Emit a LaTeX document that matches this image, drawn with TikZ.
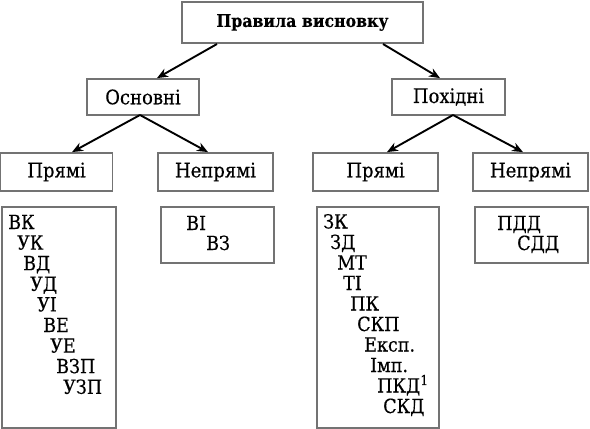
\documentclass[tikz,border=0pt]{standalone}
\usepackage{fontspec}
\setmainfont{DejaVu Serif Condensed}[FakeBold=0.35]
\usetikzlibrary{arrows.meta}
\begin{document}
\begin{tikzpicture}[x=1pt,y=-1pt,
  box/.style={draw=black!55,line width=1.8pt,fill=white},
  lbl/.style={font=\fontsize{20}{22}\selectfont},
  item/.style={anchor=base west,inner sep=0pt,font=\fontsize{19.5}{22}\selectfont},
  arr/.style={-{Stealth[length=11pt,width=9pt]},line width=1.9pt,black}]
\useasboundingbox (0,0) rectangle (590,429);
% header boxes
\node[box,minimum width=241pt,minimum height=41pt,font=\bfseries\fontsize{17.5}{19}\selectfont] (top) at (302.5,22.5) {Правила висновку};
\node[box,lbl,minimum width=112pt,minimum height=36pt] (osn) at (143,97) {Основні};
\node[box,lbl,minimum width=113pt,minimum height=36pt] (poh) at (448.5,97) {Похідні};
\node[box,lbl,minimum width=112pt,minimum height=38pt] (p1) at (56.5,172) {Прямі};
\node[box,lbl,minimum width=115pt,minimum height=38pt] (n1) at (215.5,172) {Непрямі};
\node[box,lbl,minimum width=125pt,minimum height=38pt] (p2) at (375.5,172) {Прямі};
\node[box,lbl,minimum width=115pt,minimum height=38pt] (n2) at (530.5,172) {Непрямі};
% anchor coordinates
\coordinate (t1) at (217,44);
\coordinate (t2) at (383,44);
\coordinate (o1) at (140,115);
\coordinate (h1) at (453,115);
\draw[arr] (t1) -- (osn.north -| 157,0);
\draw[arr] (t2) -- (poh.north -| 440,0);
\draw[arr] (o1) -- (p1.north -| 72,0);
\draw[arr] (o1) -- (n1.north -| 208,0);
\draw[arr] (h1) -- (p2.north -| 387,0);
\draw[arr] (h1) -- (n2.north -| 523,0);
% lower boxes
\node[box,minimum width=114pt,minimum height=221pt] (l1) at (59,317.5) {};
\node[box,minimum width=113pt,minimum height=56pt] (l2) at (217.5,235) {};
\node[box,minimum width=122pt,minimum height=221pt] (l3) at (378,317.5) {};
\node[box,minimum width=113pt,minimum height=56pt] (l4) at (531.5,235) {};
% left list
\node[item] (a1) at (8,229) {ВК};
\node[item] (a2) at (17,249.6) {УК};
\node[item] (a3) at (23,270.2) {ВД};
\node[item] (a4) at (30,290.8) {УД};
\node[item] (a5) at (37,311.4) {УІ};
\node[item] (a6) at (43,332) {ВЕ};
\node[item] (a7) at (50,352.6) {УЕ};
\node[item] (a8) at (56,373.2) {ВЗП};
\node[item] (a9) at (63,393.8) {УЗП};
% VI box
\node[item] (b1) at (186,230) {ВІ};
\node[item] (b2) at (206,250) {ВЗ};
% right list
\node[item] (c1) at (323,228.5) {ЗК};
\node[item] (c2) at (330,249) {ЗД};
\node[item] (c3) at (337,269.5) {МТ};
\node[item] (c4) at (343,290) {ТІ};
\node[item] (c5) at (350,310.5) {ПК};
\node[item] (c6) at (357,331) {СКП};
\node[item] (c7) at (364,351.5) {Експ.};
\node[item] (c8) at (370,372) {Імп.};
\node[item] (c9) at (377,392.5) {ПКД\textsuperscript{1}};
\node[item] (c10) at (383,413) {СКД};
% PDD box
\node[item] (d1) at (497,230) {ПДД};
\node[item] (d2) at (517,250) {СДД};
\end{tikzpicture}
\end{document}
